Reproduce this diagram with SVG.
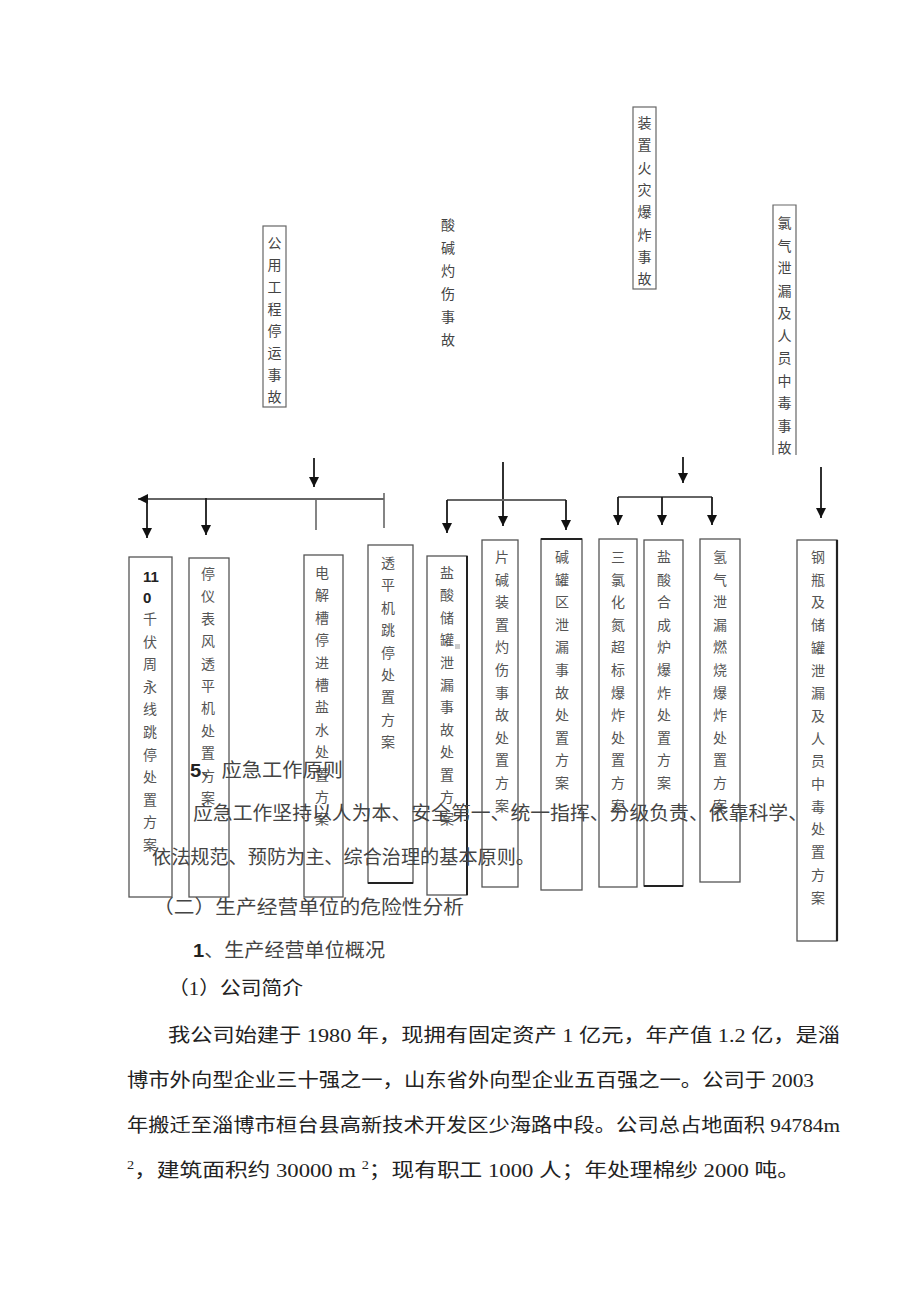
<svg xmlns="http://www.w3.org/2000/svg" width="920" height="1303" viewBox="0 0 920 1303">
<defs>
<style>
.bx{fill:none;stroke:#555;stroke-width:1.3}
.tb{fill:none;stroke:#666;stroke-width:1.2}
.v{font-family:"Noto Sans CJK SC",sans-serif;font-size:14px;fill:#555;text-anchor:middle;dominant-baseline:central}
.vt{font-family:"Noto Sans CJK SC",sans-serif;font-size:14px;fill:#444;text-anchor:middle;dominant-baseline:central}
.ar{stroke:#1a1a1a;stroke-width:1.8;fill:none}
.hb{stroke:#666;stroke-width:2.2;fill:none}
.gl{stroke:#666;stroke-width:1.6;fill:none}
.p{font-family:"Liberation Sans","Noto Sans CJK SC",sans-serif;font-size:19px;fill:#444}
.b{font-family:"Liberation Serif","Noto Sans CJK SC",serif;font-size:19px;fill:#222}
</style>
<marker id="ah" viewBox="0 0 10 10" refX="10" refY="5" markerWidth="10" markerHeight="11" markerUnits="userSpaceOnUse" orient="auto-start-reverse">
<path d="M0,0 L10,5 L0,10 z" fill="#111"/>
</marker>
</defs>

<!-- top level accident labels -->
<g id="top-gongyong">
<rect class="tb" x="263" y="226" width="23" height="181"/>
<text class="vt"><tspan x="274.5" y="242">公</tspan><tspan x="274.5" dy="22">用</tspan><tspan x="274.5" dy="22">工</tspan><tspan x="274.5" dy="22">程</tspan><tspan x="274.5" dy="22">停</tspan><tspan x="274.5" dy="22">运</tspan><tspan x="274.5" dy="22">事</tspan><tspan x="274.5" dy="22">故</tspan></text>
</g>
<g id="top-suanjian">
<text class="vt"><tspan x="448" y="224">酸</tspan><tspan x="448" dy="23">碱</tspan><tspan x="448" dy="23">灼</tspan><tspan x="448" dy="23">伤</tspan><tspan x="448" dy="23">事</tspan><tspan x="448" dy="23">故</tspan></text>
</g>
<g id="top-zhuangzhi">
<rect class="tb" x="633" y="107" width="23" height="182"/>
<text class="vt"><tspan x="644.5" y="122">装</tspan><tspan x="644.5" dy="22.3">置</tspan><tspan x="644.5" dy="22.3">火</tspan><tspan x="644.5" dy="22.3">灾</tspan><tspan x="644.5" dy="22.3">爆</tspan><tspan x="644.5" dy="22.3">炸</tspan><tspan x="644.5" dy="22.3">事</tspan><tspan x="644.5" dy="22.3">故</tspan></text>
</g>
<g id="top-lvqi">
<path class="tb" d="M773,455 V205 H796 V455"/>
<text class="vt"><tspan x="784.5" y="222">氯</tspan><tspan x="784.5" dy="22.5">气</tspan><tspan x="784.5" dy="22.5">泄</tspan><tspan x="784.5" dy="22.5">漏</tspan><tspan x="784.5" dy="22.5">及</tspan><tspan x="784.5" dy="22.5">人</tspan><tspan x="784.5" dy="22.5">员</tspan><tspan x="784.5" dy="22.5">中</tspan><tspan x="784.5" dy="22.5">毒</tspan><tspan x="784.5" dy="22.5">事</tspan><tspan x="784.5" dy="22.5">故</tspan></text>
</g>

<!-- connectors -->
<g id="connectors">
<line class="ar" x1="314" y1="458" x2="314" y2="487" marker-end="url(#ah)"/>
<line class="hb" x1="138" y1="499" x2="384" y2="499" marker-start="url(#ah)"/>
<line class="ar" x1="147" y1="499" x2="147" y2="538" marker-end="url(#ah)"/>
<line class="ar" x1="206" y1="498" x2="206" y2="535" marker-end="url(#ah)"/>
<line class="gl" x1="316" y1="499" x2="316" y2="530"/>
<line class="gl" x1="384" y1="493" x2="384" y2="528"/>

<line class="ar" x1="503" y1="462" x2="503" y2="526" marker-end="url(#ah)"/>
<line class="hb" x1="447" y1="500" x2="566" y2="500"/>
<line class="ar" x1="447" y1="500" x2="447" y2="533" marker-end="url(#ah)"/>
<line class="ar" x1="566" y1="500" x2="566" y2="530" marker-end="url(#ah)"/>

<line class="ar" x1="683" y1="457" x2="683" y2="483" marker-end="url(#ah)"/>
<line class="hb" x1="618" y1="497" x2="712" y2="497"/>
<line class="ar" x1="618" y1="497" x2="618" y2="525" marker-end="url(#ah)"/>
<line class="ar" x1="662" y1="497" x2="662" y2="525" marker-end="url(#ah)"/>
<line class="ar" x1="712" y1="497" x2="712" y2="525" marker-end="url(#ah)"/>

<line class="ar" x1="821" y1="467" x2="821" y2="518" marker-end="url(#ah)"/>
</g>

<!-- plan boxes -->
<g id="box1">
<rect class="bx" x="129" y="557" width="43" height="340" stroke="#222"/>
<text x="143" y="582" font-family="Liberation Sans,sans-serif" font-size="15" font-weight="bold" fill="#222">11</text>
<text x="143" y="603" font-family="Liberation Sans,sans-serif" font-size="15" font-weight="bold" fill="#222">0</text>
<text class="v"><tspan x="150" y="618">千</tspan><tspan x="150" dy="22.6">伏</tspan><tspan x="150" dy="22.6">周</tspan><tspan x="150" dy="22.6">永</tspan><tspan x="150" dy="22.6">线</tspan><tspan x="150" dy="22.6">跳</tspan><tspan x="150" dy="22.6">停</tspan><tspan x="150" dy="22.6">处</tspan><tspan x="150" dy="22.6">置</tspan><tspan x="150" dy="22.6">方</tspan><tspan x="150" dy="22.6">案</tspan></text>
</g>
<g id="box2">
<rect class="bx" x="189" y="558" width="40" height="339"/>
<text class="v"><tspan x="208" y="573">停</tspan><tspan x="208" dy="22.4">仪</tspan><tspan x="208" dy="22.4">表</tspan><tspan x="208" dy="22.4">风</tspan><tspan x="208" dy="22.4">透</tspan><tspan x="208" dy="22.4">平</tspan><tspan x="208" dy="22.4">机</tspan><tspan x="208" dy="22.4">处</tspan><tspan x="208" dy="22.4">置</tspan><tspan x="208" dy="22.4">方</tspan><tspan x="208" dy="22.4">案</tspan></text>
</g>
<g id="box3">
<rect class="bx" x="304" y="555" width="39" height="342"/>
<text class="v"><tspan x="322" y="572">电</tspan><tspan x="322" dy="22.4">解</tspan><tspan x="322" dy="22.4">槽</tspan><tspan x="322" dy="22.4">停</tspan><tspan x="322" dy="22.4">进</tspan><tspan x="322" dy="22.4">槽</tspan><tspan x="322" dy="22.4">盐</tspan><tspan x="322" dy="22.4">水</tspan><tspan x="322" dy="22.4">处</tspan><tspan x="322" dy="22.4">置</tspan><tspan x="322" dy="22.4">方</tspan><tspan x="322" dy="22.4">案</tspan></text>
</g>
<g id="box4">
<rect class="bx" x="368" y="545" width="45" height="338"/>
<line x1="368" y1="883" x2="413" y2="883" stroke="#222" stroke-width="2"/>
<text class="v"><tspan x="388" y="562">透</tspan><tspan x="388" dy="22.4">平</tspan><tspan x="388" dy="22.4">机</tspan><tspan x="388" dy="22.4">跳</tspan><tspan x="388" dy="22.4">停</tspan><tspan x="388" dy="22.4">处</tspan><tspan x="388" dy="22.4">置</tspan><tspan x="388" dy="22.4">方</tspan><tspan x="388" dy="22.4">案</tspan></text>
</g>
<g id="box5">
<rect class="bx" x="427" y="556" width="40" height="339"/>
<line x1="467" y1="556" x2="467" y2="895" stroke="#222" stroke-width="2"/>
<rect x="455" y="644" width="5" height="5" fill="#ccc"/>
<text class="v"><tspan x="447" y="572">盐</tspan><tspan x="447" dy="22.4">酸</tspan><tspan x="447" dy="22.4">储</tspan><tspan x="447" dy="22.4">罐</tspan><tspan x="447" dy="22.4">泄</tspan><tspan x="447" dy="22.4">漏</tspan><tspan x="447" dy="22.4">事</tspan><tspan x="447" dy="22.4">故</tspan><tspan x="447" dy="22.4">处</tspan><tspan x="447" dy="22.4">置</tspan><tspan x="447" dy="22.4">方</tspan><tspan x="447" dy="22.4">案</tspan></text>
</g>
<g id="box6">
<rect class="bx" x="482" y="540" width="36" height="347"/>
<text class="v"><tspan x="502" y="556">片</tspan><tspan x="502" dy="22.6">碱</tspan><tspan x="502" dy="22.6">装</tspan><tspan x="502" dy="22.6">置</tspan><tspan x="502" dy="22.6">灼</tspan><tspan x="502" dy="22.6">伤</tspan><tspan x="502" dy="22.6">事</tspan><tspan x="502" dy="22.6">故</tspan><tspan x="502" dy="22.6">处</tspan><tspan x="502" dy="22.6">置</tspan><tspan x="502" dy="22.6">方</tspan><tspan x="502" dy="22.6">案</tspan></text>
</g>
<g id="box7">
<rect class="bx" x="541" y="539" width="41" height="351"/>
<line x1="541" y1="539" x2="582" y2="539" stroke="#222" stroke-width="2.2"/>
<text class="v"><tspan x="562" y="556">碱</tspan><tspan x="562" dy="22.6">罐</tspan><tspan x="562" dy="22.6">区</tspan><tspan x="562" dy="22.6">泄</tspan><tspan x="562" dy="22.6">漏</tspan><tspan x="562" dy="22.6">事</tspan><tspan x="562" dy="22.6">故</tspan><tspan x="562" dy="22.6">处</tspan><tspan x="562" dy="22.6">置</tspan><tspan x="562" dy="22.6">方</tspan><tspan x="562" dy="22.6">案</tspan></text>
</g>
<g id="box8">
<rect class="bx" x="599" y="539" width="38" height="348"/>
<text class="v"><tspan x="618" y="556">三</tspan><tspan x="618" dy="22.6">氯</tspan><tspan x="618" dy="22.6">化</tspan><tspan x="618" dy="22.6">氮</tspan><tspan x="618" dy="22.6">超</tspan><tspan x="618" dy="22.6">标</tspan><tspan x="618" dy="22.6">爆</tspan><tspan x="618" dy="22.6">炸</tspan><tspan x="618" dy="22.6">处</tspan><tspan x="618" dy="22.6">置</tspan><tspan x="618" dy="22.6">方</tspan><tspan x="618" dy="22.6">案</tspan></text>
</g>
<g id="box9">
<rect class="bx" x="644" y="540" width="39" height="346"/>
<line x1="644" y1="886" x2="683" y2="886" stroke="#222" stroke-width="2.2"/>
<text class="v"><tspan x="664" y="556">盐</tspan><tspan x="664" dy="22.6">酸</tspan><tspan x="664" dy="22.6">合</tspan><tspan x="664" dy="22.6">成</tspan><tspan x="664" dy="22.6">炉</tspan><tspan x="664" dy="22.6">爆</tspan><tspan x="664" dy="22.6">炸</tspan><tspan x="664" dy="22.6">处</tspan><tspan x="664" dy="22.6">置</tspan><tspan x="664" dy="22.6">方</tspan><tspan x="664" dy="22.6">案</tspan></text>
</g>
<g id="box10">
<rect class="bx" x="700" y="539" width="40" height="343"/>
<text class="v"><tspan x="720" y="556">氢</tspan><tspan x="720" dy="22.6">气</tspan><tspan x="720" dy="22.6">泄</tspan><tspan x="720" dy="22.6">漏</tspan><tspan x="720" dy="22.6">燃</tspan><tspan x="720" dy="22.6">烧</tspan><tspan x="720" dy="22.6">爆</tspan><tspan x="720" dy="22.6">炸</tspan><tspan x="720" dy="22.6">处</tspan><tspan x="720" dy="22.6">置</tspan><tspan x="720" dy="22.6">方</tspan><tspan x="720" dy="22.6">案</tspan></text>
</g>
<g id="box11">
<rect class="bx" x="797" y="540" width="40" height="401"/>
<line x1="837" y1="540" x2="837" y2="941" stroke="#222" stroke-width="2.2"/>
<text class="v"><tspan x="818" y="556">钢</tspan><tspan x="818" dy="22.7">瓶</tspan><tspan x="818" dy="22.7">及</tspan><tspan x="818" dy="22.7">储</tspan><tspan x="818" dy="22.7">罐</tspan><tspan x="818" dy="22.7">泄</tspan><tspan x="818" dy="22.7">漏</tspan><tspan x="818" dy="22.7">及</tspan><tspan x="818" dy="22.7">人</tspan><tspan x="818" dy="22.7">员</tspan><tspan x="818" dy="22.7">中</tspan><tspan x="818" dy="22.7">毒</tspan><tspan x="818" dy="22.7">处</tspan><tspan x="818" dy="22.7">置</tspan><tspan x="818" dy="22.7">方</tspan><tspan x="818" dy="22.7">案</tspan></text>
</g>

<!-- body text -->
<g id="paragraphs">
<text class="p" x="190" y="777" textLength="153" lengthAdjust="spacingAndGlyphs"><tspan font-weight="bold" fill="#222">5</tspan>、应急工作原则</text>
<text class="p" x="193" y="820" textLength="615" lengthAdjust="spacingAndGlyphs">应急工作坚持以人为本、安全第一、统一指挥、分级负责、依靠科学、</text>
<text class="p" x="152" y="864" textLength="383" lengthAdjust="spacingAndGlyphs">依法规范、预防为主、综合治理的基本原则。</text>
<text class="p" x="153" y="914" textLength="311" lengthAdjust="spacingAndGlyphs">（二）生产经营单位的危险性分析</text>
<text class="p" x="193" y="957" textLength="192" lengthAdjust="spacingAndGlyphs"><tspan font-weight="bold" fill="#222">1</tspan>、生产经营单位概况</text>
<text class="b" x="168" y="995" textLength="135" lengthAdjust="spacingAndGlyphs" fill="#333">（1）公司简介</text>
<text class="b" x="168" y="1042" textLength="672" lengthAdjust="spacingAndGlyphs">我公司始建于 1980 年，现拥有固定资产 1 亿元，年产值 1.2 亿，是淄</text>
<text class="b" x="127" y="1087" textLength="687" lengthAdjust="spacingAndGlyphs">博市外向型企业三十强之一，山东省外向型企业五百强之一。公司于 2003</text>
<text class="b" x="127" y="1132" textLength="713" lengthAdjust="spacingAndGlyphs">年搬迁至淄博市桓台县高新技术开发区少海路中段。公司总占地面积 94784m</text>
<text class="b" x="127" y="1177" textLength="673" lengthAdjust="spacingAndGlyphs"><tspan font-size="12" dy="-8">2</tspan><tspan dy="8">，建筑面积约 30000 m </tspan><tspan font-size="12" dy="-8">2</tspan><tspan dy="8">；现有职工 1000 人；年处理棉纱 2000 吨。</tspan></text>
</g>
</svg>
